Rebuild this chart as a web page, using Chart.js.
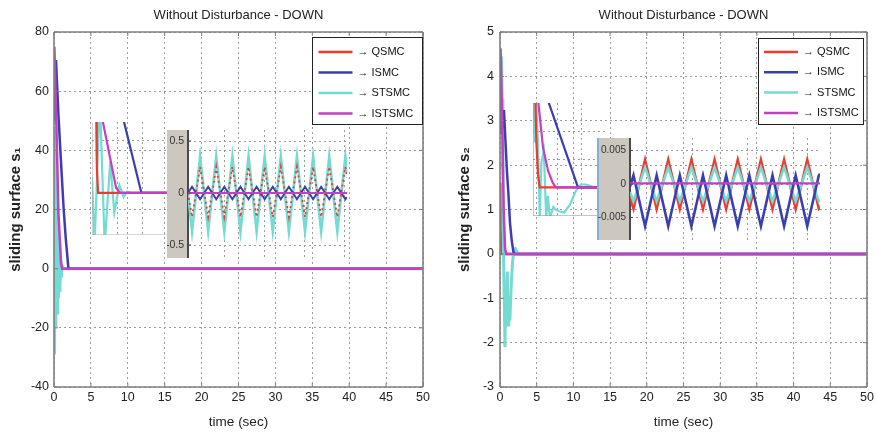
<!DOCTYPE html>
<html><head><meta charset="utf-8">
<script src="https://cdn.jsdelivr.net/npm/chart.js@4.4.0/dist/chart.umd.min.js"></script>
<style>
html,body{margin:0;padding:0;background:#fff;}
body{width:877px;height:433px;position:relative;overflow:hidden;}
canvas{position:absolute;}
</style></head>
<body>
<canvas id="mainL" width="437" height="433" style="left:0;top:0"></canvas>
<canvas id="mainR" width="440" height="433" style="left:437px;top:0"></canvas>
<canvas id="insL1" width="76" height="113" style="left:92px;top:122px"></canvas>
<canvas id="insL2" width="180" height="128" style="left:167px;top:130px"></canvas>
<canvas id="insR1" width="72" height="113" style="left:533px;top:103px"></canvas>
<canvas id="insR2" width="223" height="102" style="left:597px;top:138px"></canvas>
<script>
// ---------------- DATA ----------------
const seriesNames = ['QSMC', 'ISMC', 'STSMC', 'ISTSMC'];
const titleText = 'Without Disturbance - DOWN';
const xTitle = 'time (sec)';
const yTitleLeft = 'sliding surface s\u2081';
const yTitleRight = 'sliding surface s\u2082';

// main left (s1)
const mL_Q_t = [0, 0.05, 0.15, 0.25, 50];
const mL_Q_v = [44, 47, 20, 0, 0];
const mL_I_t = [0, 0.27, 0.6, 0.95, 1.3, 1.6, 1.94, 2.1, 50];
const mL_I_v = [50, 70.5, 52, 36, 20.5, 10, 0.5, 0, 0];
const mL_ST_t = [0, 0.05, 0.1, 0.17, 0.25, 0.33, 0.42, 0.5, 0.6, 0.7, 0.8, 0.9, 1.0, 1.1, 1.3, 50];
const mL_ST_v = [0, 47, -29, 35, -20, 25, -15, 14, -10, 8, -8, 4, -3, 1, 0, 0];
const mL_IST_t = [0, 0.05, 0.36, 0.6, 0.95, 1.1, 50];
const mL_IST_v = [60, 75, 45, 19, 2, 0, 0];

// main right (s2)
const mR_Q_t = [0, 0.05, 0.12, 0.2, 50];
const mR_Q_v = [1.6, 1.6, 0.5, 0, 0];
const mR_I_t = [0, 0.2, 0.54, 0.95, 1.13, 1.36, 1.6, 1.82, 2, 50];
const mR_I_v = [3.9, 2.7, 3.24, 1.85, 1.4, 0.7, 0.3, 0.05, 0, 0];
const mR_ST_t = [0, 0.2, 0.3, 0.4, 0.5, 0.6, 0.68, 0.78, 0.9, 1.0, 1.1, 1.2, 1.35, 1.5, 1.7, 1.9, 2.1, 2.3, 2.5, 50];
const mR_ST_v = [2.9, 4.45, 3.5, 1.3, -0.3, -1.2, -2.1, -0.6, -1.0, -0.4, -1.6, -1.0, -1.5, -0.8, -0.2, 0.1, 0.12, 0.05, 0, 0];
const mR_IST_t = [0, 0.08, 0.3, 0.5, 0.7, 0.85, 50];
const mR_IST_v = [4.2, 4.63, 3.0, 1.0, 0.1, 0, 0];

// inset left 1 (transient zoom of s1)
const iL1_Q_t = [0.16, 0.19, 0.24, 3];
const iL1_Q_v = [35, 10, 0, 0];
const iL1_I_t = [1.24, 1.95, 3];
const iL1_I_v = [28, 0, 0];
const iL1_ST_t = [0, 0.1, 0.29, 0.33, 0.5, 0.72, 0.88, 1.08, 1.25, 1.4, 1.6, 3];
const iL1_ST_v = [6, -20, 30, 30, -20, 12, -7.5, 3, -1.5, 0.5, 0, 0];
const iL1_IST_t = [0.4, 0.95, 1.1, 3];
const iL1_IST_v = [28.5, 2, 0, 0];
const iL1_gridX = [1, 2, 3];
const iL1_gridY = [20];

// inset left 2 (steady-state zoom of s1)
const iL2_t = [0, 0.25, 0.75, 1.25, 1.75, 2.25, 2.75, 3.25, 3.75, 4.25, 4.75, 5.25, 5.75, 6.25, 6.75, 7.25, 7.75, 8.25, 8.75, 9.25, 9.75, 9.85];
const iL2_Q_v = [0, -0.23, 0.25, -0.23, 0.25, -0.23, 0.25, -0.23, 0.25, -0.23, 0.25, -0.23, 0.25, -0.23, 0.25, -0.23, 0.25, -0.23, 0.25, -0.23, 0.25, 0.15];
const iL2_I_v = [0, 0.06, -0.06, 0.06, -0.06, 0.06, -0.06, 0.06, -0.06, 0.06, -0.06, 0.06, -0.06, 0.06, -0.06, 0.06, -0.06, 0.06, -0.06, 0.06, -0.06, -0.04];
const iL2_ST_v = [0, -0.37, 0.35, -0.37, 0.35, -0.37, 0.35, -0.37, 0.35, -0.37, 0.35, -0.37, 0.35, -0.37, 0.35, -0.37, 0.35, -0.37, 0.35, -0.37, 0.35, 0.2];
const iL2_IST_t = [0, 9.85];
const iL2_IST_v = [0, 0];
const iL2_gridX = [2.24, 4.72, 7.2, 9.69];
const iL2_ticksY = [-0.5, 0, 0.5];

// inset right 1 (transient zoom of s2)
const iR1_Q_t = [0.1, 0.14, 0.21, 0.28, 3];
const iR1_Q_v = [3.2, 1.63, 0.45, 0, 0];
const iR1_I_t = [0.62, 1.875, 3];
const iR1_I_v = [3.1, 0, 0];
const iR1_ST_t = [0.03, 0.08, 0.12, 0.2, 0.28, 0.35, 0.45, 0.55, 0.62, 0.7, 0.85, 0.95, 1.1, 1.3, 1.55, 1.8, 1.9, 2.0, 2.2, 2.4, 2.55, 3];
const iR1_ST_v = [3.1, 1.6, 3.1, 1.8, -1.1, 0.9, 1.3, -1.1, -0.3, -1.1, -0.7, -0.8, -0.85, -0.9, -0.6, -0.1, 0, 0.1, 0.1, 0.05, 0, 0];
const iR1_IST_t = [0.2, 0.42, 0.63, 0.83, 0.96, 3];
const iR1_IST_v = [3.2, 1.4, 0.58, 0.15, 0, 0];
const iR1_gridX = [1, 2, 3];
const iR1_gridY = [1, 2];

// inset right 2 (steady-state zoom of s2)
const iR2_t = [0, 0.15, 0.65, 1.15, 1.65, 2.15, 2.65, 3.15, 3.65, 4.15, 4.65, 5.15, 5.65, 6.15, 6.65, 7.15, 7.65, 8.15, 8.2];
const iR2_Q_v = [-0.002, -0.0037, 0.0036, -0.0037, 0.0036, -0.0037, 0.0036, -0.0037, 0.0036, -0.0037, 0.0036, -0.0037, 0.0036, -0.0037, 0.0036, -0.0037, 0.0036, -0.0037, -0.0035];
const iR2_I_v = [-0.0004, 0.0013, -0.0063, 0.0013, -0.0063, 0.0013, -0.0063, 0.0013, -0.0063, 0.0013, -0.0063, 0.0013, -0.0063, 0.0013, -0.0063, 0.0013, -0.0063, 0.0013, 0.0015];
const iR2_ST_v = [-0.0012, -0.0026, 0.0025, -0.0026, 0.0025, -0.0026, 0.0025, -0.0026, 0.0025, -0.0026, 0.0025, -0.0026, 0.0025, -0.0026, 0.0025, -0.0026, 0.0025, -0.0026, -0.0024];
const iR2_IST_t = [0, 8.2];
const iR2_IST_v = [0.0001, 0.0001];
const iR2_gridX = [2.68, 5.09, 7.64];
const iR2_ticksY = [-0.005, 0, 0.005];

// ---------------- STYLE ----------------
const FONT = "'Liberation Sans', Arial, Helvetica, sans-serif";
Chart.defaults.font.family = FONT;
Chart.defaults.color = '#222';
const colors = ['#ee3a2f', '#3a3fb0', '#74dbd2', '#c43fc4'];
const orderMain = [3, 1, 2, 0];
const orderInsetA = [2, 1, 3, 0];
const orderInsetB = [3, 1, 2, 0];
const GRID = '#9c9c9c';

function pts(t, v) { return t.map((x, i) => ({x: x, y: v[i]})); }
function makeSets(pairs, widths, order, dashes) {
  return pairs.map((p, i) => ({
    label: seriesNames[i], data: pts(p[0], p[1]),
    borderColor: colors[i], backgroundColor: colors[i],
    borderWidth: widths[i], borderDash: (dashes && dashes[i]) || [],
    pointRadius: 0, tension: 0, fill: false, order: order[i]
  }));
}

const decor = {
  id: 'decor',
  beforeDraw(chart, args, o) {
    if (!o || !o.band) return;
    const ctx = chart.ctx, ca = chart.chartArea;
    ctx.save();
    ctx.fillStyle = o.band;
    ctx.fillRect(0, 0, ca.left, chart.height);
    if (o.edge) { ctx.fillStyle = o.edge; ctx.fillRect(0, 0, 2, chart.height); }
    ctx.restore();
  },
  afterDatasetsDraw(chart, args, o) {
    if (!o) return;
    const ctx = chart.ctx, ca = chart.chartArea;
    ctx.save();
    if (o.frame) {
      const f = o.frame;
      ctx.strokeStyle = f.color; ctx.lineWidth = f.width; ctx.setLineDash([]);
      ctx.beginPath();
      if (f.sides.includes('t')) { ctx.moveTo(ca.left, ca.top); ctx.lineTo(ca.right, ca.top); }
      if (f.sides.includes('r')) { ctx.moveTo(ca.right, ca.top); ctx.lineTo(ca.right, ca.bottom); }
      if (f.sides.includes('b')) { ctx.moveTo(ca.left, ca.bottom); ctx.lineTo(ca.right, ca.bottom); }
      if (f.sides.includes('l')) { ctx.moveTo(ca.left, ca.top); ctx.lineTo(ca.left, ca.bottom); }
      ctx.stroke();
    }
    if (o.innerTicks) {
      const it = o.innerTicks;
      ctx.strokeStyle = it.color; ctx.lineWidth = it.width; ctx.beginPath();
      if (it.x) chart.scales.x.ticks.forEach(t => {
        const px = chart.scales.x.getPixelForValue(t.value);
        ctx.moveTo(px, ca.bottom); ctx.lineTo(px, ca.bottom - it.len);
        ctx.moveTo(px, ca.top); ctx.lineTo(px, ca.top + it.len);
      });
      if (it.y) chart.scales.y.ticks.forEach(t => {
        const py = chart.scales.y.getPixelForValue(t.value);
        ctx.moveTo(ca.left, py); ctx.lineTo(ca.left + it.len, py);
        if (it.both) { ctx.moveTo(ca.right, py); ctx.lineTo(ca.right - it.len, py); }
      });
      ctx.stroke();
    }
    if (o.legend) {
      const L = o.legend;
      const x0 = ca.right - L.right - L.w, y0 = ca.top + L.top;
      ctx.fillStyle = '#fff'; ctx.fillRect(x0, y0, L.w, L.h);
      ctx.strokeStyle = '#222'; ctx.lineWidth = 1;
      ctx.strokeRect(Math.round(x0) + 0.5, Math.round(y0) + 0.5, L.w - 1, L.h - 1);
      ctx.font = '11px ' + FONT; ctx.textBaseline = 'middle'; ctx.textAlign = 'left';
      chart.data.datasets.forEach((ds, i) => {
        const y = y0 + L.first + i * L.gap;
        ctx.strokeStyle = ds.borderColor; ctx.lineWidth = 2.5; ctx.setLineDash([]);
        ctx.beginPath(); ctx.moveTo(x0 + L.ls, y); ctx.lineTo(x0 + L.le, y); ctx.stroke();
        ctx.fillStyle = '#111';
        ctx.fillText('\u2192 ' + ds.label, x0 + L.ts, y);
      });
    }
    ctx.restore();
  }
};

function mainChart(id, sets, c) {
  return new Chart(document.getElementById(id), {
    type: 'line',
    data: {datasets: sets},
    plugins: [decor],
    options: {
      responsive: false, animation: false, devicePixelRatio: 1, events: [],
      layout: {padding: {left: 0, right: c.padRight, top: 0, bottom: 0}},
      plugins: {
        legend: {display: false}, tooltip: {enabled: false},
        title: {display: true, text: titleText, fullSize: false, color: '#222',
          font: {size: 13, weight: 'normal'}, padding: {top: 8, bottom: 8.4}},
        decor: {
          frame: {color: '#808080', width: 1.6, sides: 'trbl'},
          innerTicks: {color: '#808080', width: 1, len: 4, x: true, y: true, both: true},
          legend: c.legend
        }
      },
      scales: {
        x: {type: 'linear', min: 0, max: 50,
          ticks: {stepSize: 5, padding: 3, color: '#222', font: {size: 12.5}, maxRotation: 0, autoSkip: false},
          grid: {drawTicks: false, color: GRID, lineWidth: 1},
          border: {display: false, dash: [2, 3]},
          title: {display: true, text: xTitle, color: '#222', font: {size: 13.5}, padding: {top: 0, bottom: 3}},
          afterFit: s => { s.height = 46; }},
        y: {type: 'linear', min: c.ymin, max: c.ymax,
          ticks: {stepSize: c.ystep, padding: c.yPad, color: '#222', font: {size: 12.5}, autoSkip: false},
          grid: {drawTicks: false, color: GRID, lineWidth: 1},
          border: {display: false, dash: [2, 3]},
          title: {display: true, text: c.yTitle, color: '#222', font: {size: 15, weight: 'bold'}, padding: {top: c.yTitlePad, bottom: 0}},
          afterFit: s => { s.width = c.yWidth; }}
      }
    }
  });
}

function insetChart(id, sets, c) {
  return new Chart(document.getElementById(id), {
    type: 'line',
    data: {datasets: sets},
    plugins: [decor],
    options: {
      responsive: false, animation: false, devicePixelRatio: 1, events: [],
      layout: {padding: 0},
      plugins: {legend: {display: false}, tooltip: {enabled: false}, title: {display: false}, decor: c.decor},
      scales: {
        x: {type: 'linear', min: c.xmin, max: c.xmax,
          afterBuildTicks: s => { s.ticks = c.gridX.map(v => ({value: v})); },
          ticks: {display: false},
          grid: {drawTicks: false, color: GRID, lineWidth: 1},
          border: {display: false, dash: [2, 3]},
          afterFit: s => { s.height = 0; s.paddingLeft = 0; s.paddingRight = 0; }},
        y: {type: 'linear', min: c.ymin, max: c.ymax,
          afterBuildTicks: s => { s.ticks = c.gridY.map(v => ({value: v})); },
          ticks: {display: !!c.yLabels, padding: 4, color: '#333', font: {size: c.tickSize || 10}, callback: v => String(v)},
          grid: {drawTicks: false, color: GRID, lineWidth: 1},
          border: {display: !!c.axisLine, color: '#4a4a4a', width: 2, dash: [2, 3]},
          afterFit: s => { s.width = c.axisWidth || 0; s.paddingTop = 0; s.paddingBottom = 0; }}
      }
    }
  });
}

// ---------------- CHARTS ----------------
mainChart('mainL', makeSets([[mL_Q_t, mL_Q_v], [mL_I_t, mL_I_v], [mL_ST_t, mL_ST_v], [mL_IST_t, mL_IST_v]], [2.5, 2.5, 3, 2.5], orderMain), {
  padRight: 14, ymin: -40, ymax: 80, ystep: 20, yPad: 5, yWidth: 54, yTitle: yTitleLeft, yTitlePad: 6.5,
  legend: {w: 111, h: 88, right: 0.5, top: 5, first: 15, gap: 20.5, ls: 7, le: 41, ts: 46}
});
mainChart('mainR', makeSets([[mR_Q_t, mR_Q_v], [mR_I_t, mR_I_v], [mR_ST_t, mR_ST_v], [mR_IST_t, mR_IST_v]], [2.5, 2.5, 3, 2.5], orderMain), {
  padRight: 10, ymin: -3, ymax: 5, ystep: 1, yPad: 6, yWidth: 63, yTitle: yTitleRight, yTitlePad: 19,
  legend: {w: 106, h: 87, right: 3, top: 6, first: 14, gap: 20.3, ls: 6, le: 40, ts: 45}
});

insetChart('insL1', makeSets([[iL1_Q_t, iL1_Q_v], [iL1_I_t, iL1_I_v], [iL1_ST_t, iL1_ST_v], [iL1_IST_t, iL1_IST_v]], [2.2, 2.2, 2.2, 2.2], orderInsetA), {
  xmin: 0, xmax: 3, ymin: -16, ymax: 27, gridX: iL1_gridX, gridY: iL1_gridY,
  decor: {frame: {color: '#b0b0b0', width: 1, sides: 'lb'}}
});
insetChart('insL2', makeSets([[iL2_t, iL2_Q_v], [iL2_t, iL2_I_v], [iL2_t, iL2_ST_v], [iL2_IST_t, iL2_IST_v]], [1.8, 2, 2.6, 2.2], orderInsetA, [[2, 3], null, null, null]), {
  xmin: 0, xmax: 9.85, ymin: -0.625, ymax: 0.606, gridX: iL2_gridX, gridY: iL2_ticksY,
  yLabels: true, axisLine: true, axisWidth: 21, tickSize: 10.5,
  decor: {band: '#cdc8bf', innerTicks: {color: '#4a4a4a', width: 1, len: 3, y: true}}
});
insetChart('insR1', makeSets([[iR1_Q_t, iR1_Q_v], [iR1_I_t, iR1_I_v], [iR1_ST_t, iR1_ST_v], [iR1_IST_t, iR1_IST_v]], [2.2, 2.2, 2.2, 2.2], orderInsetA), {
  xmin: 0, xmax: 3, ymin: -1.02, ymax: 3.0, gridX: iR1_gridX, gridY: iR1_gridY,
  decor: {frame: {color: '#8a8a8a', width: 1, sides: 'lb'}}
});
insetChart('insR2', makeSets([[iR2_t, iR2_Q_v], [iR2_t, iR2_I_v], [iR2_t, iR2_ST_v], [iR2_IST_t, iR2_IST_v]], [2.6, 2.6, 2.6, 2.2], orderInsetB), {
  xmin: 0, xmax: 8.2, ymin: -0.00836, ymax: 0.00687, gridX: iR2_gridX, gridY: iR2_ticksY,
  yLabels: true, axisLine: true, axisWidth: 33, tickSize: 10,
  decor: {band: '#cdc8bf', edge: '#7fb2e0', innerTicks: {color: '#4a4a4a', width: 1, len: 3, y: true}}
});
</script>
</body></html>
